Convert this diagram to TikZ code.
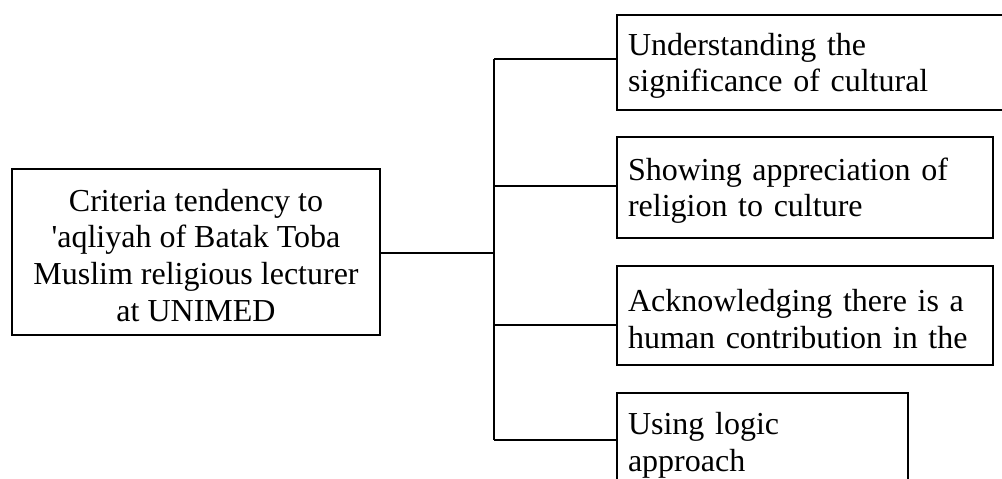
\documentclass[tikz,border=0pt]{standalone}
\usepackage{fontspec}
\setmainfont{Liberation Serif}[Ligatures=TeXOff]
\newcommand{\toppad}{\rule{0pt}{29pt}}
\begin{document}
\begin{tikzpicture}[x=1pt,y=-1pt,
  box/.style={draw, line width=2pt, inner sep=0pt, font=\fontsize{32}{36.7}\selectfont},
  leaf/.style={box, anchor=north west, align=left, inner xsep=11pt},
  conn/.style={line width=2pt}]
\useasboundingbox (0,0) rectangle (1002,479);
\clip (0,0) rectangle (1002,479);
\node[box, align=center, minimum width=368pt, minimum height=166pt] (main) at (196,252)
  {\toppad Criteria tendency to\\'aqliyah of Batak Toba\\Muslim religious lecturer\\at UNIMED};
\node[leaf, minimum width=420pt, minimum height=95pt, text width=398pt] (b1) at (616,14)
  {\toppad Understanding the\\significance of cultural};
\node[leaf, minimum width=376pt, minimum height=101pt, text width=354pt] (b2) at (616,136)
  {\toppad Showing appreciation of\\religion to culture};
\node[leaf, minimum width=376pt, minimum height=99pt, text width=354pt] (b3) at (616,265)
  {\toppad Acknowledging there is a\\human contribution in the};
\node[leaf, minimum width=291pt, minimum height=98pt, text width=269pt] (b4) at (616,392)
  {\toppad Using logic\\approach};
\coordinate (j0) at (494,253);
\coordinate (j1) at (494,59);
\coordinate (j2) at (494,186);
\coordinate (j3) at (494,325);
\coordinate (j4) at (494,440);
\draw[conn] (main.east |- j0) -- (j0);
\draw[conn] (j1) -- (j4);
\draw[conn] (j1) -- (b1.west |- j1);
\draw[conn] (j2) -- (b2.west |- j2);
\draw[conn] (j3) -- (b3.west |- j3);
\draw[conn] (j4) -- (b4.west |- j4);
\end{tikzpicture}
\end{document}
